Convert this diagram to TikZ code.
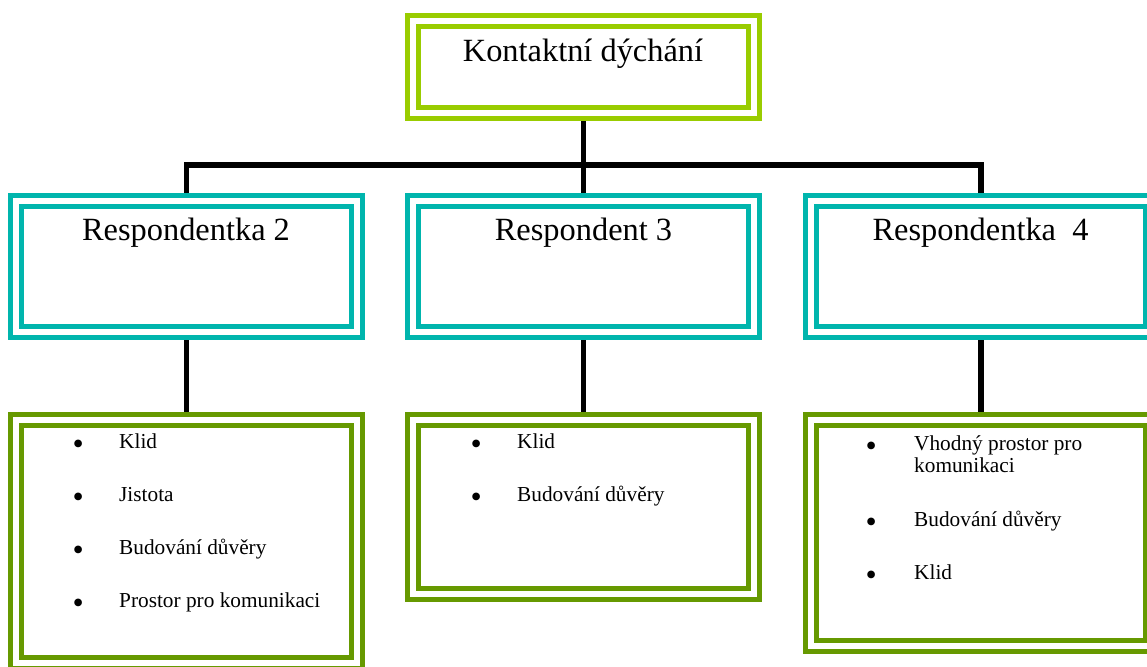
\documentclass[tikz,border=0pt]{standalone}
\usepackage{fontspec}
\setmainfont{Liberation Serif}
\usetikzlibrary{backgrounds}

\definecolor{limegreen}{RGB}{153,204,0}
\definecolor{tealbox}{RGB}{0,181,173}
\definecolor{olivebox}{RGB}{102,153,0}

\tikzset{
  frame/.style={rectangle, draw=#1, line width=5pt, double=white,
    double distance=6pt, fill=white, inner sep=0pt, outer sep=0pt},
  conn/.style={draw=black, line width=5.5pt},
  head/.style={anchor=base, inner sep=0pt, font=\fontsize{32.4}{38}\selectfont},
  item/.style={anchor=base west, inner sep=0pt, font=\fontsize{21.3}{22}\selectfont},
}
\newcommand{\bul}[1]{\makebox[0pt]{\raisebox{-6.5pt}{\scalebox{1.5}{\textbullet}}}\hspace{#1}}

\begin{document}
\begin{tikzpicture}[x=1pt,y=-1pt]
  \useasboundingbox (0,0) rectangle (1147,666);
  \clip (0,0) rectangle (1147,666);

  % top level
  \node[frame=limegreen, minimum width=340.5pt, minimum height=92pt] (top) at (583.5,67) {};
  \node[head] (ttop) at (583,62) {Kontaktní dýchání};

  % respondents
  \node[frame=tealbox, minimum width=340.5pt, minimum height=130.5pt] (r1) at (186.25,266.25) {};
  \node[frame=tealbox, minimum width=340.5pt, minimum height=130.5pt] (r2) at (583.5,266.25) {};
  \node[frame=tealbox, minimum width=340.5pt, minimum height=130.5pt] (r3) at (981,266.25) {};
  \node[head] (tr1) at (186,240) {Respondentka 2};
  \node[head] (tr2) at (583.5,240) {Respondent 3};
  \node[head] (tr3) at (980.5,240) {Respondentka\ \ 4};

  % findings
  \node[frame=olivebox, minimum width=340.5pt, minimum height=243.5pt] (b1) at (186.25,541.25) {};
  \node[frame=olivebox, minimum width=340.5pt, minimum height=174.5pt] (b2) at (583.5,506.75) {};
  \node[frame=olivebox, minimum width=340.5pt, minimum height=226.5pt] (b3) at (981,532.75) {};

  \node[item] (b1i1) at (78,448) {\bul{41pt}Klid};
  \node[item] (b1i2) at (78,501) {\bul{41pt}Jistota};
  \node[item] (b1i3) at (78,554) {\bul{41pt}Budování důvěry};
  \node[item] (b1i4) at (78,607) {\bul{41pt}Prostor pro komunikaci};

  \node[item] (b2i1) at (476,448) {\bul{41pt}Klid};
  \node[item] (b2i2) at (476,501) {\bul{41pt}Budování důvěry};

  \node[item] (b3i1) at (871,450) {\bul{43pt}\begin{tabular}[t]{@{}l@{}}Vhodný prostor pro\\komunikaci\end{tabular}};
  \node[item] (b3i2) at (871,526) {\bul{43pt}Budování důvěry};
  \node[item] (b3i3) at (871,579) {\bul{43pt}Klid};

  % connectors
  \coordinate (bus) at (583.5,165);
  \begin{scope}[on background layer]
    \draw[conn] (top.south) -- (r2.north);
    \draw[conn] (r1.north) |- (bus) -| (r3.north);
    \draw[conn] (r1.south) -- (b1.north);
    \draw[conn] (r2.south) -- (b2.north);
    \draw[conn] (r3.south) -- (b3.north);
  \end{scope}
\end{tikzpicture}
\end{document}
